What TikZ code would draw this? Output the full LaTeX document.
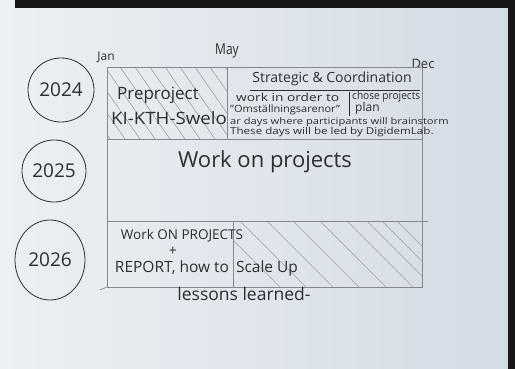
\documentclass[tikz,border=0pt]{standalone}
\usepackage{fontspec}
\setmainfont{Open Sans}
\usetikzlibrary{shapes.geometric}
\definecolor{paperL}{HTML}{ECF0F4}
\definecolor{paperR}{HTML}{D3DBE4}
\definecolor{pencil}{HTML}{85898F}
\definecolor{ink}{HTML}{2B2E33}
\definecolor{dark}{HTML}{161616}
\tikzset{
  grid/.style={draw=pencil, line width=0.7pt},
  hatch/.style={draw=pencil!80, line width=0.6pt},
  yearbubble/.style={ellipse, draw=ink, line width=0.8pt, inner sep=0pt, text=ink,
     font=\fontsize{19}{21}\selectfont},
  txt/.style={text=ink, inner sep=0pt},
}
\newcommand{\wide}[2]{\scalebox{#1}[1]{#2}}
\begin{document}
\begin{tikzpicture}[x=1pt,y=-1pt]
\useasboundingbox (0,0) rectangle (515,369);
% paper and surroundings
\shade[left color=paperL, right color=paperR] (0,0) rectangle (515,369);
\fill[dark] (15,0) rectangle (515,8);
\fill[dark] (508,0) rectangle (515,369);

% year bubbles
\node[yearbubble, minimum width=66pt, minimum height=64pt] (y2024) at (61,90) {2024};
\node[yearbubble, minimum width=64pt, minimum height=62pt] (y2025) at (54,171) {2025};
\node[yearbubble, minimum width=70pt, minimum height=80pt] (y2026) at (50,260) {2026};

% month labels
\node[txt, font=\fontsize{12}{14}\selectfont] (jan) at (106,57) {Jan};
\node[txt, font=\fontsize{15}{17}\selectfont] (may) at (227,51) {\wide{0.8}{May}};
\node[txt, font=\fontsize{13}{15}\selectfont] (dec) at (423,64) {Dec};

% hatching row 1 left cell
\begin{scope}
  \clip (107,67) rectangle (227,139);
  \foreach \x in {60,75,...,230} {
    \draw[hatch] (\x,67) -- (\x+50,139);
  }
\end{scope}
% hatching row 3 right cell
\begin{scope}
  \clip (233,221) rectangle (422,287);
  \foreach \x in {214,240,267,293,320,347,367,382,397} {
    \draw[hatch] (\x,221) -- (\x+66,287);
  }
\end{scope}

% grid
\draw[grid] (107,67) rectangle (422,287);
\draw[grid] (107,139) -- (422,139);
\draw[grid] (107,221) -- (428,221);
\draw[grid] (100,290) -- (107,287);
\draw[grid] (227,67) -- (227,139);
\draw[grid] (233,221) -- (233,287);

% row 1 texts
\node[txt, font=\fontsize{17}{19}\selectfont] (pre) at (158,95) {Preproject};
\node[txt, font=\fontsize{17}{19}\selectfont] (ki) at (169,118) {\wide{1.1}{KI-KTH-Swelo}};
\node[txt, font=\fontsize{14}{16}\selectfont] (strat) at (332,79) {Strategic \& Coordination};
\draw[draw=ink, line width=0.6pt] (250,90) -- (420,90);
\draw[draw=ink, line width=0.6pt] (349,92) -- (349,116);
\node[txt, anchor=west, font=\fontsize{11}{12}\selectfont] (work) at (236,97) {\wide{1.25}{work in order to}};
\node[txt, anchor=west, font=\fontsize{11}{12}\selectfont] (chose) at (352,97) {\wide{0.92}{chose projects}};
\node[txt, anchor=west, font=\fontsize{10}{11}\selectfont] (oms) at (230,110) {\wide{1.1}{"Omställningsarenor"}};
\node[txt, anchor=west, font=\fontsize{12}{13}\selectfont] (plan) at (355,108) {plan};
\node[txt, anchor=west, font=\fontsize{9}{10}\selectfont] (ar) at (230,122) {\wide{1.24}{ar days where participants will brainstorm}};
\node[txt, anchor=west, font=\fontsize{9.5}{10}\selectfont] (these) at (230,132.5) {\wide{1.22}{These days will be led by DigidemLab.}};

% row 2
\node[txt, font=\fontsize{22}{24}\selectfont] (wop) at (265,162) {Work on projects};

% row 3
\node[txt, font=\fontsize{13.5}{15}\selectfont] (wop2) at (182,236) {Work ON PROJECTS};
\node[txt, font=\fontsize{14}{16}\selectfont] (plus) at (173,251) {+};
\node[txt, font=\fontsize{15.5}{17}\selectfont] (rep) at (172,268) {REPORT, how to};
\node[txt, font=\fontsize{15.5}{17}\selectfont] (scale) at (267,268) {Scale Up};
\node[txt, font=\fontsize{17.5}{19}\selectfont] (less) at (244,294) {lessons learned-};
\end{tikzpicture}
\end{document}
